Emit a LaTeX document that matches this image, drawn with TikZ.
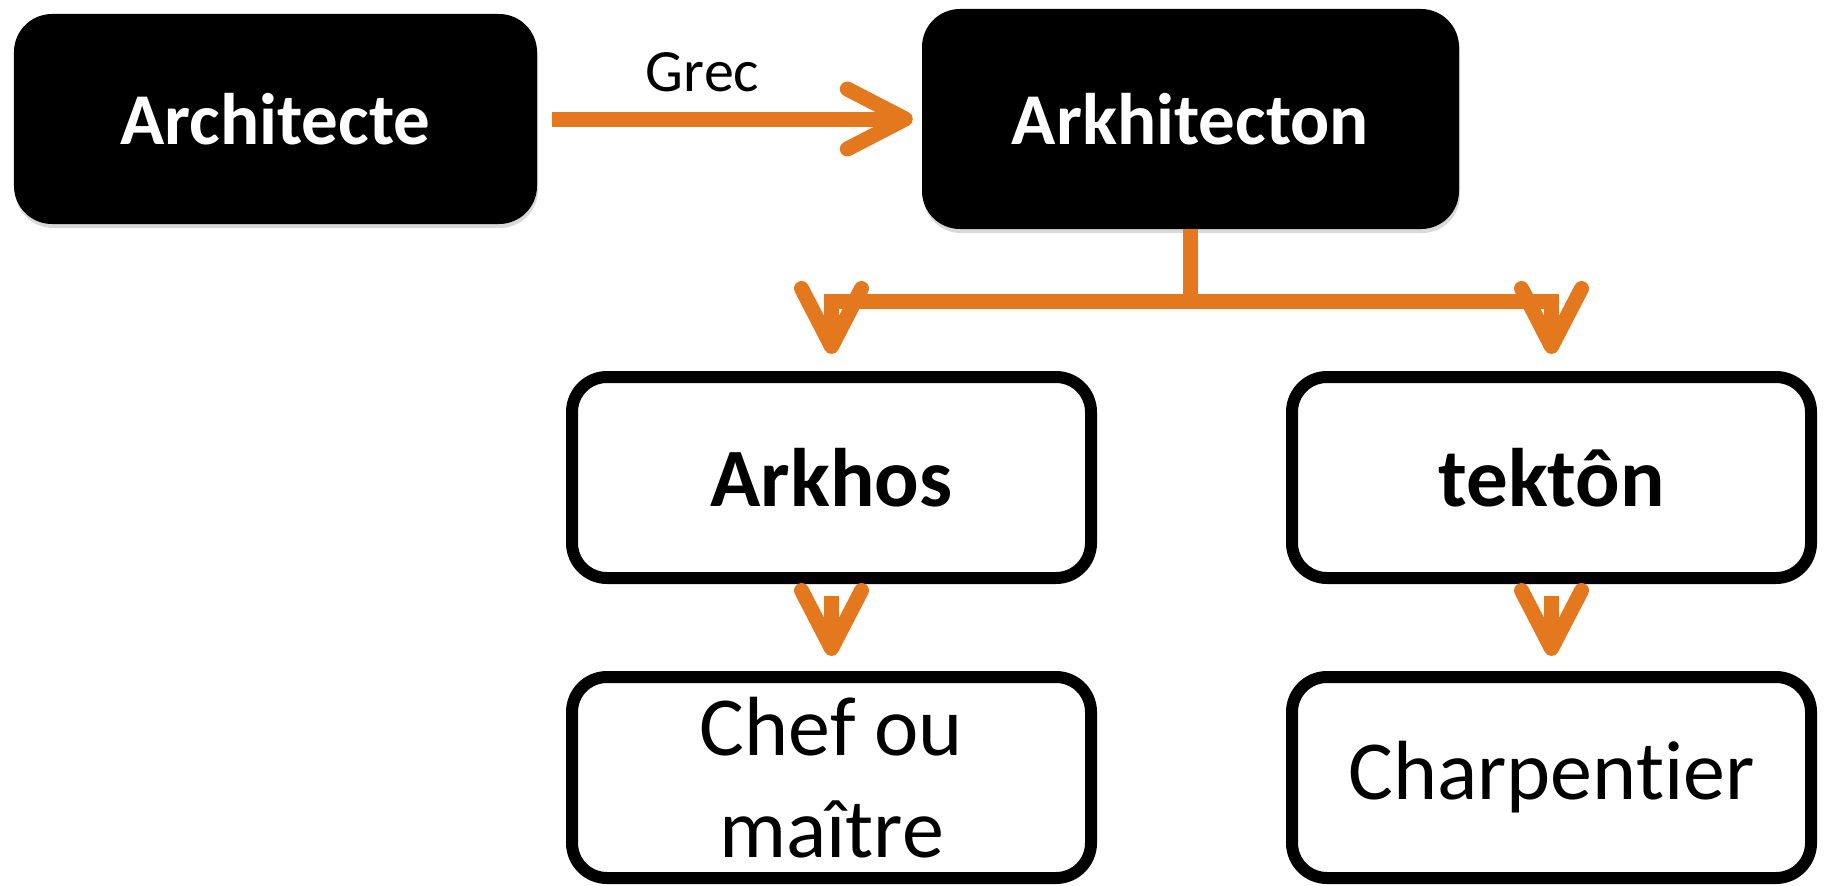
\documentclass[tikz,border=0pt]{standalone}
\usepackage{fontspec}
\setmainfont{Carlito}[Ligatures=NoCommon]
\usetikzlibrary{arrows.meta,shadows}
\definecolor{arrorange}{RGB}{228,120,30}
\begin{document}
\begin{tikzpicture}[x=1bp,y=-1bp,
  blackbox/.style={draw=none, fill=black, rounded corners=38bp, inner sep=0pt,
    text=white, font=\fontsize{73bp}{80bp}\selectfont\bfseries,
    drop shadow={shadow xshift=1bp, shadow yshift=-4bp, opacity=0.3}},
  whitebox/.style={draw=black, fill=white, line width=12bp, rounded corners=35bp,
    inner sep=0pt, minimum width=519bp, minimum height=201bp, align=center},
  boldtxt/.style={font=\fontsize{83bp}{90bp}\selectfont\bfseries},
  regtxt/.style={font=\fontsize{84bp}{102bp}\selectfont},
  orarrow/.style={draw=arrorange, line width=15bp,
    -{Straight Barb[length=58bp, width=60bp, round]}},
  lbl/.style={font=\fontsize{60bp}{66bp}\selectfont, inner sep=0pt}
]
\useasboundingbox (0,0) rectangle (1830,886);

\node[blackbox, minimum width=523bp, minimum height=210bp] (arch) at (275.5,119) {Architecte};
\node[blackbox, minimum width=537bp, minimum height=220bp] (arkh) at (1190.5,119) {Arkhitecton};

\node[whitebox, boldtxt] (arkhos) at (831.5,477.5) {Arkhos};
\node[whitebox, boldtxt] (tekton) at (1551.5,477.5) {tektôn};
\node[whitebox, regtxt] (chef) at (831.5,777.5) {Chef ou\\maître};
\node[whitebox, regtxt] (charp) at (1551.5,777.5) {Charpentier};

\coordinate (bar) at (1190.5,301);

\draw[orarrow, shorten <=15bp, shorten >=9bp] (arch.east) -- node[lbl, pos=0.43, above=20bp] (grec) {Grec} (arkh.west);
\draw[orarrow, shorten >=17bp] (arkh.south) -- (bar) -| (arkhos.north);
\draw[orarrow, shorten >=17bp] (arkh.south) -- (bar) -| (tekton.north);
\draw[orarrow, shorten <=12bp, shorten >=15bp] (arkhos.south) -- (chef.north);
\draw[orarrow, shorten <=12bp, shorten >=15bp] (tekton.south) -- (charp.north);
\end{tikzpicture}
\end{document}
